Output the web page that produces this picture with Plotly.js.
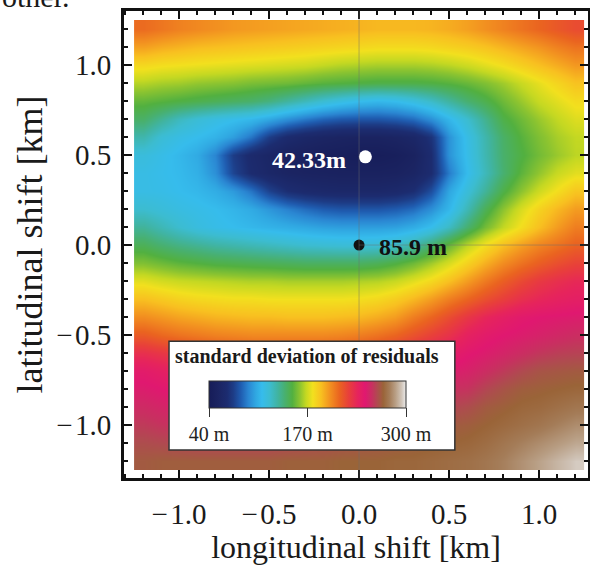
<!DOCTYPE html>
<html>
<head>
<meta charset="utf-8">
<script src="https://cdn.plot.ly/plotly-3.0.1.min.js"></script>
<style>html,body{margin:0;padding:0;background:#fff;}#chart{width:590px;height:565px;}</style>
</head>
<body>
<div id="chart"></div>
<script>
// grid cell centres (km)
const lonShift = [-1.2,-1.1,-1.0,-0.9,-0.8,-0.7,-0.6,-0.5,-0.4,-0.3,-0.2,-0.1,0.0,0.1,0.2,0.3,0.4,0.5,0.6,0.7,0.8,0.9,1.0,1.1,1.2];
const latShift = [1.2,1.1,1.0,0.9,0.8,0.7,0.6,0.5,0.4,0.3,0.2,0.1,0.0,-0.1,-0.2,-0.3,-0.4,-0.5,-0.6,-0.7,-0.8,-0.9,-1.0,-1.1,-1.2];
// standard deviation of residuals (m), rows top (lat 1.2) to bottom (lat -1.2)
const sdRows = [
 [210,207,204,202,200,198,197,196,195,194,193,192,191,190,190,190,191,193,196,200,204,208,212,216,220],
 [196,193,191,189,188,187,186,185,184,183,182,181,180,179,179,179,180,182,184,187,191,195,199,204,208],
 [180,178,177,176,175,174,173,172,171,170,168,166,165,164,164,164,165,167,170,174,178,183,188,193,198],
 [166,164,163,161,160,159,157,156,155,153,151,150,149,148,148,148,149,151,154,158,163,169,175,181,187],
 [153,151,149,147,145,143,141,137,131,125,119,114,110,108,110,115,122,131,140,147,155,162,169,174,179],
 [142,133,124,118,114,111,108,102,95,89,84,81,80,80,82,86,95,108,120,134,148,155,162,168,173],
 [128,118,113,110,106,99,88,72,62,57,54,52,51,51,53,57,68,96,113,128,142,151,158,164,168],
 [116,112,108,103,92,72,61,55,50,48,46,45,43,43,45,50,64,96,112,127,141,149,156,162,167],
 [113,111,109,105,95,75,63,57,53,51,50,49,49,49,50,54,64,90,110,125,140,152,161,169,174],
 [113,112,110,108,104,98,88,74,65,61,59,58,58,58,60,65,78,102,117,132,148,160,170,178,186],
 [120,117,114,112,110,107,103,97,91,86,82,80,80,80,82,86,95,108,126,145,160,172,182,190,197],
 [132,126,120,115,112,110,108,106,104,102,100,99,99,99,100,104,111,123,140,156,168,178,188,197,205],
 [145,140,136,133,130,128,126,124,122,120,119,118,118,119,122,129,140,154,167,178,188,196,203,208,213],
 [158,155,152,150,148,147,146,145,144,143,143,143,143,145,149,155,163,172,182,192,201,208,214,219,223],
 [174,171,169,168,167,166,165,165,164,164,164,164,165,166,169,174,180,188,197,206,214,221,227,231,234],
 [188,185,182,180,179,178,178,177,177,177,177,177,178,180,184,190,197,205,212,219,225,231,235,238,240],
 [201,198,195,193,191,190,189,189,188,188,188,189,190,193,197,205,212,220,228,235,240,244,246,247,248],
 [215,211,208,206,204,203,202,202,202,202,202,203,205,208,212,218,224,230,238,243,246,248,250,252,254],
 [231,228,225,222,220,218,217,216,216,216,217,218,220,223,227,232,237,241,245,248,251,254,257,259,260],
 [243,240,237,234,232,230,229,228,228,228,229,230,232,235,239,243,246,248,250,254,258,262,265,266,267],
 [248,246,244,242,241,240,239,239,239,240,241,242,244,246,249,251,253,255,256,261,265,268,269,270,271],
 [253,251,249,248,247,246,246,246,246,247,248,249,251,253,255,257,259,261,263,267,269,271,272,274,276],
 [258,256,255,254,253,253,253,253,253,254,255,256,258,260,262,264,266,267,268,270,272,274,276,279,282],
 [263,262,261,260,260,260,260,260,261,262,263,264,265,266,267,268,269,270,271,273,276,279,282,285,288],
 [267,268,268,268,268,268,268,268,269,269,269,270,270,270,271,271,272,273,274,276,279,283,287,291,295]
];
// colour scale stops (value in m, colour)
const scaleValues = [40,52,64,72,82,92,102,110,120,130,140,150,160,168,177,188,200,212,224,236,246,255,262,270,278,286,294,300];
const scaleColors = ['#161c58','#1b2462','#1c2c70','#1d3c86','#1f5cb0','#2a86d2','#30a8e2','#36bcec','#3cbcd0','#40b4a4','#48b070','#52b040','#8cc430','#c4d822','#f2e01e','#f8c020','#f29020','#ea6420','#e8403a','#e6245c','#e01870','#c83060','#b04a50','#9a6438','#a47c58','#b89e84','#d0c4b8','#ececec'];
const zMin = 40, zMax = 300;
// colour bar ticks
const barTickVals = [40,170,300];
const barTickText = ['40 m','170 m','300 m'];
// axis ticks
const axisTickVals = [-1,-0.5,0,0.5,1];
const axisTickText = ['\u2212\u200A1.0','\u2212\u200A0.5','0.0','0.5','1.0'];
// marked points
const bestLon = [0.035], bestLat = [0.49], bestLabel = '42.33m';
const originLon = [0.0], originLat = [0.0], originLabel = '85.9 m';

const colorscale = scaleValues.map((v,i)=>[(v-zMin)/(zMax-zMin), scaleColors[i]]);
const zAsc = sdRows.slice().reverse();
const yAsc = latShift.slice().reverse();

const serif = 'Liberation Serif, Times New Roman, serif';

const traces = [
 {
  type:'heatmap', x: lonShift, y: yAsc, z: zAsc,
  zmin: zMin, zmax: zMax, colorscale: colorscale, zsmooth: 'best',
  hoverinfo: 'skip',
  colorbar: {
    orientation:'h', lenmode:'pixels', len:197, thicknessmode:'pixels', thickness:27,
    x:0.3955, xanchor:'center', y:0.2077, yanchor:'top', xpad:0, ypad:0,
    outlinewidth:1, outlinecolor:'#333',
    tickmode:'array', tickvals:barTickVals, ticktext:barTickText,
    ticks:'outside', ticklen:9, tickwidth:1, tickcolor:'#333',
    tickfont:{family:serif, size:20, color:'#222'}
  }
 },
 {
  type:'scatter', mode:'markers', x: originLon, y: originLat,
  marker:{color:'#111', size:11}, hoverinfo:'skip', showlegend:false
 },
 {
  type:'scatter', mode:'markers', x: bestLon, y: bestLat,
  marker:{color:'#ffffff', size:13}, hoverinfo:'skip', showlegend:false
 }
];

const axisCommon = {
  showline:true, linewidth:3, linecolor:'#111', mirror:'allticks',
  ticks:'inside', ticklen:8, tickwidth:2, tickcolor:'#111',
  tickmode:'array', tickvals:axisTickVals, ticktext:axisTickText,
  minor:{tickmode:'linear', tick0:0, dtick:0.1, ticks:'inside', ticklen:4, tickwidth:1.5, tickcolor:'#111', showgrid:false},
  showgrid:false, zeroline:false,
  tickfont:{family:serif, size:29, color:'#1a1a1a'}
};

const layout = {
  width:590, height:565,
  margin:{l:124, r:2, t:11, b:87, pad:0},
  paper_bgcolor:'#fff', plot_bgcolor:'#fff',
  font:{family:serif, color:'#1a1a1a'},
  showlegend:false,
  xaxis: Object.assign({}, axisCommon, {
    range:[-1.306,1.272], ticklabelstandoff:8,
    title:{text:'longitudinal shift [km]', font:{family:serif, size:32, color:'#1a1a1a'}, standoff:15}
  }),
  yaxis: Object.assign({}, axisCommon, {
    range:[-1.294,1.300], ticklabelstandoff:4,
    title:{text:'latitudinal shift [km]', font:{family:serif, size:36, color:'#1a1a1a'}, standoff:3}
  }),
  shapes:[
    {type:'line', xref:'x', yref:'paper', x0:0, x1:0, y0:0, y1:1, line:{color:'rgba(110,110,110,0.45)', width:1}, layer:'above'},
    {type:'line', xref:'x', yref:'y', x0:0, x1:1.272, y0:0, y1:0, line:{color:'rgba(110,110,110,0.45)', width:1}, layer:'above'},
    {type:'rect', xref:'paper', yref:'paper', x0:0.097, x1:0.713, y0:0.060, y1:0.293, fillcolor:'#ffffff', line:{color:'#333', width:1.5}, layer:'above'}
  ],
  annotations:[
    {xref:'x', yref:'y', x:-0.061, y:0.472, xanchor:'right', yanchor:'middle', showarrow:false,
     text:'<b>'+bestLabel+'</b>', font:{family:serif, size:24, color:'#ffffff'}},
    {xref:'x', yref:'y', x:0.10, y:-0.011, xanchor:'left', yanchor:'middle', showarrow:false,
     text:'<b>'+originLabel+'</b>', font:{family:serif, size:24, color:'#111'}},
    {xref:'paper', yref:'paper', x:0.394, y:0.261, xanchor:'center', yanchor:'middle', showarrow:false,
     text:'<b>standard deviation of residuals</b>', font:{family:serif, size:20, color:'#1a1a1a'}},
    {xref:'paper', yref:'paper', x:-0.267, y:1.03, xanchor:'left', yanchor:'middle', showarrow:false,
     text:'other.', font:{family:serif, size:30, color:'#1a1a1a'}}
  ]
};

Plotly.newPlot('chart', traces, layout, {displayModeBar:false, staticPlot:true});
</script>
</body>
</html>
